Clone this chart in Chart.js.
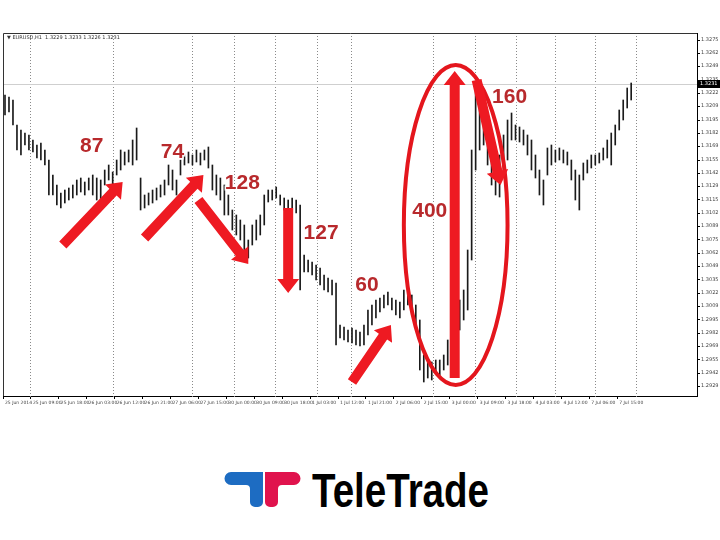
<!DOCTYPE html>
<html>
<head>
<meta charset="utf-8">
<script src="https://cdn.jsdelivr.net/npm/chart.js@4.4.1/dist/chart.umd.min.js"></script>
<style>
  html, body { margin: 0; padding: 0; background: #fff; width: 720px; height: 540px; overflow: hidden; }
  #wrap { position: absolute; left: 0; top: 28px; width: 720px; height: 382px; }
  #logo { position: absolute; left: 0; top: 440px; }
</style>
</head>
<body>
<div id="wrap"><canvas id="chart"></canvas></div>
<svg id="logo" width="720" height="100" viewBox="0 440 720 100">
  <path d="M231,472 H263 V502 A5,5 0 0 1 258,507 H255 A5,5 0 0 1 250,502 V489 Q250,485 246,485 H231 A6.5,6.5 0 0 1 231,472 Z" fill="#1d6cc2"/>
  <path d="M265,472 H294 A6.5,6.5 0 0 1 294,485 H282 Q278,485 278,489 V502 A5,5 0 0 1 273,507 H270 A5,5 0 0 1 265,502 Z" fill="#e0134d"/>
  <text x="312" y="507" font-family="Liberation Sans, Arial, sans-serif" font-weight="bold" font-size="48" textLength="177" lengthAdjust="spacingAndGlyphs" fill="#000">TeleTrade</text>
</svg>
<script>
// H1 bars (high / low per bar)
const highs = [
  1.3220, 1.3218, 1.3215, 1.3190, 1.3185, 1.3182, 1.3180, 1.3175, 1.3170, 1.3172,
  1.3165, 1.3155, 1.3140, 1.3130, 1.3122, 1.3125, 1.3127, 1.3130, 1.3135, 1.3137,
  1.3133, 1.3137, 1.3140, 1.3137, 1.3135, 1.3145, 1.3150, 1.3143, 1.3155, 1.3165,
  1.3163, 1.3165, 1.3175, 1.3187, 1.3137, 1.3120, 1.3122, 1.3125, 1.3127, 1.3130,
  1.3135, 1.3150, 1.3145, 1.3135, 1.3155, 1.3160, 1.3163, 1.3160, 1.3165, 1.3162,
  1.3165, 1.3168, 1.3150, 1.3140, 1.3137, 1.3130, 1.3120, 1.3105, 1.3100, 1.3095,
  1.3090, 1.3075, 1.3090, 1.3095, 1.3100, 1.3120, 1.3125, 1.3125, 1.3128, 1.3120,
  1.3117, 1.3115, 1.3117, 1.3115, 1.3110, 1.3060, 1.3055, 1.3053, 1.3050, 1.3047,
  1.3040, 1.3037, 1.3035, 1.3032, 1.2990, 1.2988, 1.2985, 1.2987, 1.2985, 1.2983,
  1.2990, 1.3005, 1.3010, 1.3015, 1.3017, 1.3020, 1.3023, 1.3017, 1.3015, 1.3013,
  1.3025, 1.3030, 1.3020, 1.3010, 1.2995, 1.2960, 1.2955, 1.2953, 1.2955, 1.2955,
  1.2960, 1.2975, 1.2990, 1.3005, 1.3015, 1.3025, 1.3065, 1.3165, 1.3232, 1.3215,
  1.3205, 1.3185, 1.3175, 1.3165, 1.3160, 1.3180, 1.3195, 1.3202, 1.3190, 1.3188,
  1.3185, 1.3180, 1.3175, 1.3160, 1.3145, 1.3135, 1.3167, 1.3170, 1.3165, 1.3167,
  1.3165, 1.3163, 1.3155, 1.3145, 1.3140, 1.3152, 1.3155, 1.3160, 1.3160, 1.3162,
  1.3167, 1.3175, 1.3182, 1.3190, 1.3205, 1.3215, 1.3227, 1.3232
];
const lows = [
  1.3200, 1.3203, 1.3190, 1.3165, 1.3160, 1.3170, 1.3165, 1.3163, 1.3157, 1.3155,
  1.3150, 1.3120, 1.3120, 1.3110, 1.3107, 1.3112, 1.3115, 1.3117, 1.3120, 1.3123,
  1.3120, 1.3125, 1.3120, 1.3115, 1.3105, 1.3130, 1.3135, 1.3130, 1.3140, 1.3145,
  1.3150, 1.3153, 1.3150, 1.3155, 1.3105, 1.3107, 1.3110, 1.3112, 1.3115, 1.3118,
  1.3120, 1.3130, 1.3125, 1.3120, 1.3140, 1.3150, 1.3152, 1.3150, 1.3153, 1.3150,
  1.3155, 1.3147, 1.3125, 1.3120, 1.3115, 1.3100, 1.3100, 1.3085, 1.3080, 1.3075,
  1.3058, 1.3057, 1.3070, 1.3075, 1.3080, 1.3090, 1.3113, 1.3115, 1.3117, 1.3110,
  1.3105, 1.3105, 1.3107, 1.3102, 1.3025, 1.3043, 1.3043, 1.3040, 1.3035, 1.3030,
  1.3025, 1.3023, 1.3020, 1.2970, 1.2977, 1.2975, 1.2973, 1.2972, 1.2970, 1.2969,
  1.2970, 1.2980, 1.2990, 1.2997, 1.3003, 1.3007, 1.3010, 1.3005, 1.3000, 1.2997,
  1.3005, 1.3010, 1.3000, 1.2990, 1.2945, 1.2933, 1.2937, 1.2935, 1.2943, 1.2940,
  1.2945, 1.2950, 1.2960, 1.2970, 1.2985, 1.2995, 1.3005, 1.3055, 1.3145, 1.3165,
  1.3170, 1.3150, 1.3130, 1.3120, 1.3118, 1.3140, 1.3155, 1.3175, 1.3175, 1.3173,
  1.3170, 1.3160, 1.3145, 1.3137, 1.3120, 1.3110, 1.3140, 1.3150, 1.3153, 1.3155,
  1.3152, 1.3150, 1.3135, 1.3115, 1.3105, 1.3135, 1.3142, 1.3147, 1.3150, 1.3152,
  1.3155, 1.3157, 1.3150, 1.3170, 1.3185, 1.3195, 1.3207, 1.3215
];
const totalSlots = 174;          // chart is shifted: empty slots on the right
const bidPrice = 1.3231;

const xTickLabels = [
  "25 Jun 2014", "25 Jun 09:00", "25 Jun 18:00", "26 Jun 03:00", "26 Jun 12:00", "26 Jun 21:00",
  "27 Jun 06:00", "27 Jun 15:00", "30 Jun 00:00", "30 Jun 09:00", "30 Jun 18:00", "1 Jul 03:00",
  "1 Jul 12:00", "1 Jul 21:00", "2 Jul 06:00", "2 Jul 15:00", "3 Jul 00:00", "3 Jul 09:00",
  "3 Jul 18:00", "4 Jul 03:00", "4 Jul 12:00", "7 Jul 06:00", "7 Jul 15:00"
];
const yTicks = [
  1.2929, 1.2942, 1.2955, 1.2969, 1.2982, 1.2995, 1.3009, 1.3022, 1.3035, 1.3049,
  1.3062, 1.3075, 1.3089, 1.3102, 1.3115, 1.3129, 1.3142, 1.3155, 1.3169, 1.3182,
  1.3195, 1.3209, 1.3222, 1.3235, 1.3249, 1.3262, 1.3275
];
const daySeparators = [6.25, 27, 47, 57.5, 67.75, 78.25, 86.75, 107.25, 117.75, 128, 138, 148, 158.25];
const headerText = "\u25BC EURUSD,H1  1.3229 1.3233 1.3226 1.3231";

// hand-drawn markup, in bar index / price units
const arrows = [
  { from: [14.5, 1.3070], to: [29.5, 1.3133] },
  { from: [35, 1.3077], to: [49.75, 1.3140] },
  { from: [48.5, 1.3115], to: [61, 1.3051] },
  { from: [71, 1.3107], to: [71, 1.3022] },
  { from: [87, 1.2933], to: [96.75, 1.2990] },
  { from: [112.75, 1.2937], to: [112.75, 1.3244] },
  { from: [118.25, 1.3235], to: [124.25, 1.3130] }
];
const notes = [
  { text: "87", at: [21.75, 1.3169] },
  { text: "74", at: [42, 1.3163] },
  { text: "128", at: [59.5, 1.3132] },
  { text: "127", at: [79.25, 1.3082] },
  { text: "60", at: [90.75, 1.3030] },
  { text: "400", at: [106.5, 1.3104] },
  { text: "160", at: [126.5, 1.3218] }
];
const ring = { center: [113, 1.3090], rx: 13, ry: 0.0160 };

const slotLabels = [];
for (let i = 0; i < totalSlots; i++) {
  slotLabels.push(i % 7 === 0 && xTickLabels[i / 7] ? xTickLabels[i / 7] : "");
}

function drawArrow(ctx, x1, y1, x2, y2, w, hl, hw) {
  const a = Math.atan2(y2 - y1, x2 - x1);
  const len = Math.hypot(x2 - x1, y2 - y1);
  ctx.save();
  ctx.translate(x1, y1);
  ctx.rotate(a);
  ctx.beginPath();
  ctx.moveTo(0, -w / 2);
  ctx.lineTo(len - hl, -w / 2);
  ctx.lineTo(len - hl, -hw / 2);
  ctx.lineTo(len, 0);
  ctx.lineTo(len - hl, hw / 2);
  ctx.lineTo(len - hl, w / 2);
  ctx.lineTo(0, w / 2);
  ctx.closePath();
  ctx.fill();
  ctx.restore();
}

const overlay = {
  id: "overlay",
  beforeDatasetsDraw(chart) {
    const { ctx, chartArea: a, scales: { x, y } } = chart;
    ctx.save();
    ctx.strokeStyle = "#8a8a8a";
    ctx.lineWidth = 1;
    ctx.setLineDash([1, 2]);
    daySeparators.forEach(v => {
      const px = Math.round(x.getPixelForValue(v)) + 0.5;
      ctx.beginPath();
      ctx.moveTo(px, a.top);
      ctx.lineTo(px, a.bottom + 3);
      ctx.stroke();
    });
    ctx.setLineDash([]);
    const by = Math.round(y.getPixelForValue(bidPrice)) + 0.5;
    ctx.strokeStyle = "#cfcfcf";
    ctx.beginPath();
    ctx.moveTo(a.left, by);
    ctx.lineTo(a.right, by);
    ctx.stroke();
    ctx.fillStyle = "#333";
    ctx.font = "5px 'DejaVu Sans'";
    ctx.textBaseline = "top";
    ctx.fillText(headerText, a.left + 4, a.top + 2);
    ctx.restore();
  },
  afterDatasetsDraw(chart) {
    const { ctx, chartArea: a, scales: { x, y } } = chart;
    ctx.save();
    // frame
    ctx.strokeStyle = "#333";
    ctx.lineWidth = 1;
    ctx.beginPath();
    ctx.moveTo(a.left + 0.5, a.bottom);
    ctx.lineTo(a.left + 0.5, a.top + 0.5);
    ctx.lineTo(a.right, a.top + 0.5);
    ctx.stroke();

    // ellipse
    const cx = x.getPixelForValue(ring.center[0]);
    const cy = y.getPixelForValue(ring.center[1]);
    const rx = x.getPixelForValue(ring.center[0] + ring.rx) - cx;
    const ry = y.getPixelForValue(ring.center[1] - ring.ry) - cy;
    ctx.strokeStyle = "#e4161d";
    ctx.lineWidth = 4;
    ctx.beginPath();
    ctx.ellipse(cx, cy, rx, ry, 0, 0, Math.PI * 2);
    ctx.stroke();

    // arrows
    ctx.fillStyle = "#ee1a22";
    arrows.forEach(ar => {
      drawArrow(ctx,
        x.getPixelForValue(ar.from[0]), y.getPixelForValue(ar.from[1]),
        x.getPixelForValue(ar.to[0]), y.getPixelForValue(ar.to[1]),
        10, 14, 22);
    });

    // numbers
    ctx.font = "bold 21px 'Liberation Sans', Arial, sans-serif";
    ctx.textAlign = "center";
    ctx.textBaseline = "middle";
    notes.forEach(n => {
      const px = x.getPixelForValue(n.at[0]);
      const py = y.getPixelForValue(n.at[1]);
      ctx.strokeStyle = "rgba(255,255,255,0.9)";
      ctx.lineWidth = 3;
      ctx.strokeText(n.text, px, py);
      ctx.fillStyle = "#b8292c";
      ctx.fillText(n.text, px, py);
    });

    // bid price box on the axis
    const by = Math.round(y.getPixelForValue(bidPrice));
    ctx.fillStyle = "#000";
    ctx.fillRect(a.right + 1, by - 4, 22, 8);
    ctx.fillStyle = "#fff";
    ctx.font = "5px 'DejaVu Sans'";
    ctx.textAlign = "left";
    ctx.fillText(bidPrice.toFixed(4), a.right + 3, by);
    ctx.restore();
  }
};

Chart.defaults.font.family = "'DejaVu Sans', sans-serif";

new Chart(document.getElementById("chart"), {
  type: "bar",
  data: {
    labels: slotLabels,
    datasets: [{
      data: highs.map((h, i) => [lows[i], h]),
      backgroundColor: "#1a1a1a",
      borderWidth: 0,
      barThickness: 1
    }]
  },
  options: {
    responsive: true,
    maintainAspectRatio: false,
    animation: false,
    layout: { padding: { left: 3, top: 5, right: 0, bottom: 0 } },
    plugins: { legend: { display: false }, tooltip: { enabled: false } },
    scales: {
      x: {
        grid: {
          color: "rgba(0,0,0,0)",
          drawTicks: true,
          tickLength: 3,
          tickColor: ctx => (slotLabels[ctx.index] ? "#000" : "rgba(0,0,0,0)")
        },
        border: { color: "#000" },
        ticks: {
          autoSkip: false,
          maxRotation: 0,
          minRotation: 0,
          align: "start",
          padding: 1,
          color: "#444",
          font: { size: 4.5 },
          callback: (v, i) => slotLabels[i]
        },
        afterFit: s => { s.height = 14; }
      },
      y: {
        position: "right",
        min: 1.2919,
        max: 1.3282,
        afterBuildTicks: s => { s.ticks = yTicks.map(v => ({ value: v })); },
        afterFit: s => { s.width = 23; },
        grid: { drawOnChartArea: false, tickLength: 3, tickColor: "#000" },
        border: { color: "#000" },
        ticks: {
          padding: 1,
          color: "#444",
          font: { size: 5 },
          callback: v => v.toFixed(4)
        }
      }
    }
  },
  plugins: [overlay]
});
</script>
</body>
</html>
